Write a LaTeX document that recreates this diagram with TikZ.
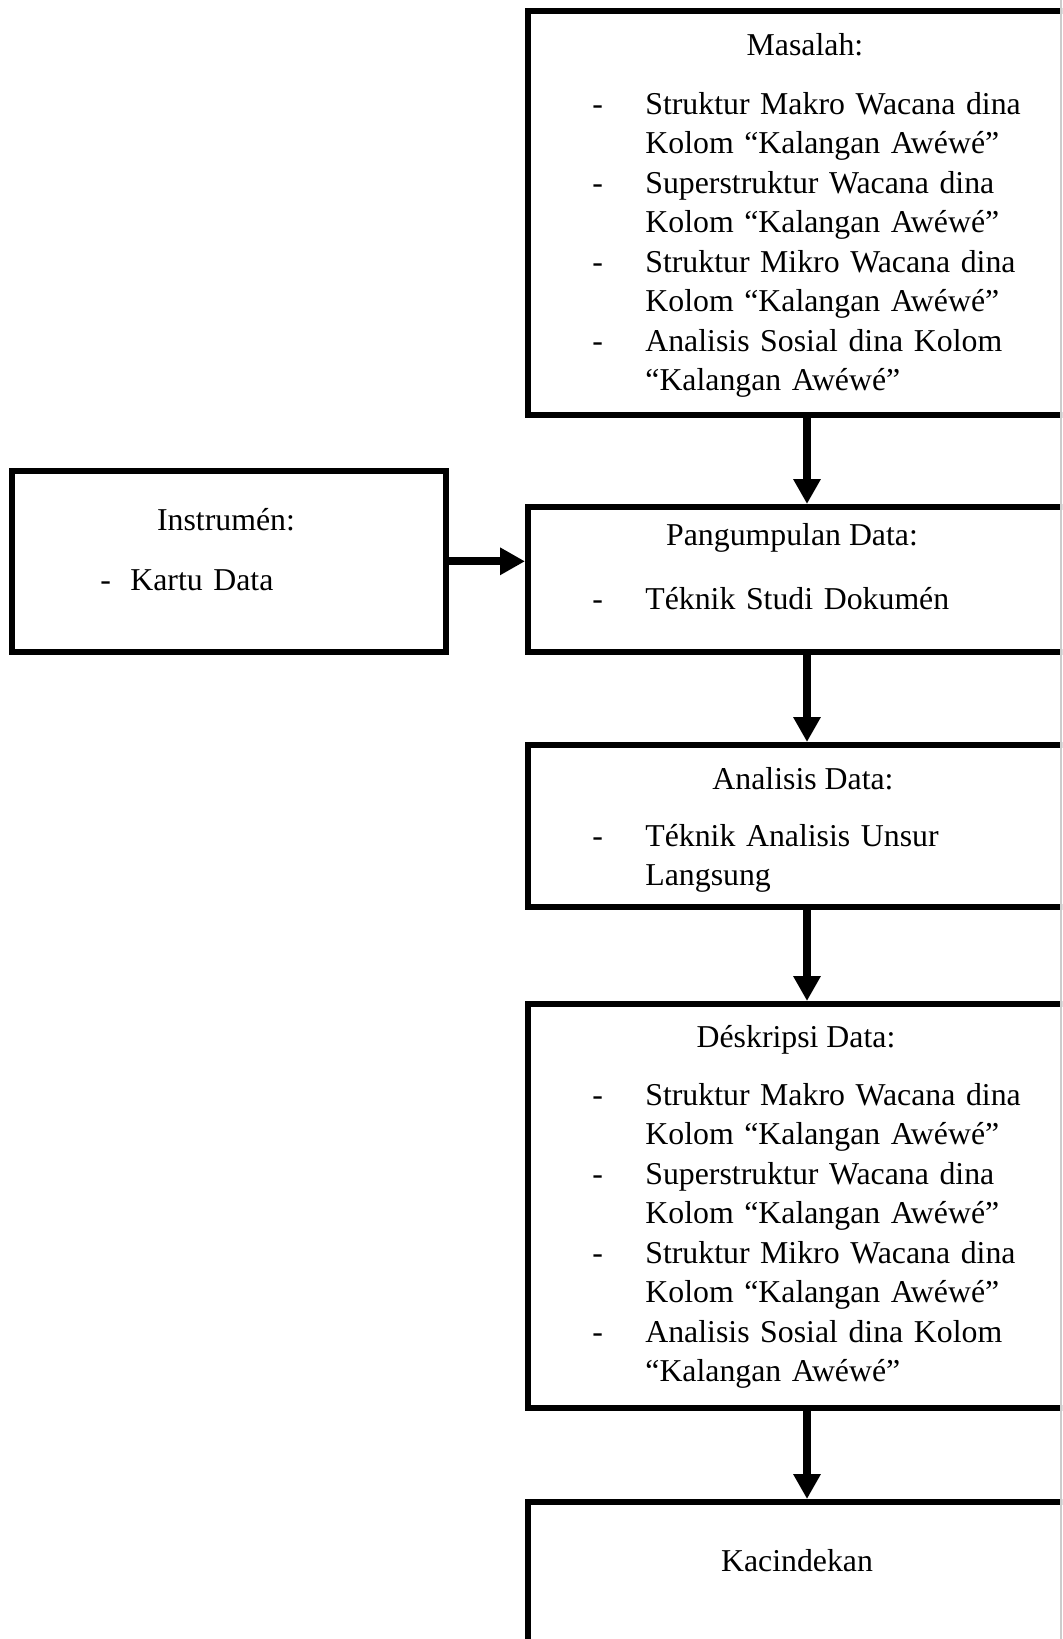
\documentclass[tikz,border=0pt]{standalone}
\usepackage{fontspec}
\setmainfont{Liberation Serif}
\usetikzlibrary{arrows.meta}
\newcommand\dashitem{\makebox[26.5pt][l]{-}}
\newcommand\contind{\hspace*{26.5pt}}
\begin{document}
\begin{tikzpicture}[x=0.5pt,y=-0.5pt,
  box/.style={draw, line width=2.8pt, rectangle, anchor=north west, inner sep=0pt},
  txt/.style={font=\fontsize{15.9pt}{19.75pt}\selectfont, inner sep=0pt},
  lst/.style={txt, anchor=base west, align=left, text width=240pt},
  ttl/.style={txt, anchor=base},
  arr/.style={line width=4pt, -{Triangle[width=13pt,length=12.5pt]}}]
\useasboundingbox (0,0) rectangle (1062,1639);
\begin{scope}
\clip (0,0) rectangle (1062,1639);
% boxes
\node[box, minimum width=277.5pt, minimum height=202pt] (mas) at (525,8) {};
\node[box, minimum width=217pt, minimum height=90.5pt] (ins) at (9,468) {};
\node[box, minimum width=277.5pt, minimum height=72.5pt] (pang) at (525,504) {};
\node[box, minimum width=277.5pt, minimum height=81pt] (anl) at (525,742) {};
\node[box, minimum width=277.5pt, minimum height=202pt] (desk) at (525,1001) {};
\node[box, minimum width=277.5pt, minimum height=100pt] (kac) at (525,1499) {};
% connectors
\coordinate (ax) at (807,0);
\draw[arr] (mas.south -| ax) -- (pang.north -| ax);
\draw[arr] (ins.east) -- (ins.east -| pang.west);
\draw[arr] (pang.south -| ax) -- (anl.north -| ax);
\draw[arr] (anl.south -| ax) -- (desk.north -| ax);
\draw[arr] (desk.south -| ax) -- (kac.north -| ax);
% texts
\node[ttl] (masT) at (805,55) {Masalah:};
\node[lst] (masL) at (592,114) {\dashitem Struktur Makro Wacana dina\\\contind Kolom “Kalangan Awéwé”\\\dashitem Superstruktur Wacana dina\\\contind Kolom “Kalangan Awéwé”\\\dashitem Struktur Mikro Wacana dina\\\contind Kolom “Kalangan Awéwé”\\\dashitem Analisis Sosial dina Kolom\\\contind “Kalangan Awéwé”};
\node[ttl] (insT) at (226,530) {Instrumén:};
\node[lst] (insL) at (100,590) {\makebox[15pt][l]{-}Kartu Data};
\node[ttl] (pangT) at (792,545) {Pangumpulan Data:};
\node[lst] (pangL) at (592,609) {\dashitem Téknik Studi Dokumén};
\node[ttl] (anlT) at (803,789) {Analisis Data:};
\node[lst] (anlL) at (592,846) {\dashitem Téknik Analisis Unsur\\\contind Langsung};
\node[ttl] (deskT) at (796,1047) {Déskripsi Data:};
\node[lst] (deskL) at (592,1105) {\dashitem Struktur Makro Wacana dina\\\contind Kolom “Kalangan Awéwé”\\\dashitem Superstruktur Wacana dina\\\contind Kolom “Kalangan Awéwé”\\\dashitem Struktur Mikro Wacana dina\\\contind Kolom “Kalangan Awéwé”\\\dashitem Analisis Sosial dina Kolom\\\contind “Kalangan Awéwé”};
\node[ttl] (kacT) at (797,1571) {Kacindekan};
\draw[black!20, line width=1pt] (1061,0) -- (1061,1639);
\end{scope}
\end{tikzpicture}
\end{document}
